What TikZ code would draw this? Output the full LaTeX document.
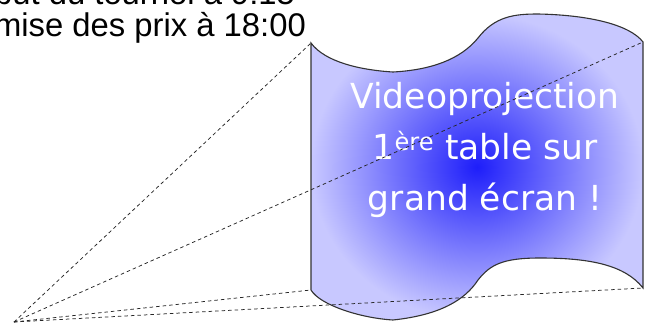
\documentclass[tikz,border=0pt]{standalone}
\usepackage{fontspec}
\setmainfont{Liberation Sans}
\newfontfamily\screenfont{DejaVu Sans}
\begin{document}
\begin{tikzpicture}[x=1pt,y=-1pt,
  toptext/.style={anchor=base west,inner sep=0pt,font=\fontsize{32.8}{33}\selectfont},
  screentext/.style={align=center,text=white,inner sep=0pt,font=\screenfont\fontsize{34.5}{51}\selectfont},
  beam/.style={dashed,dash pattern=on 3.5pt off 3pt,line width=0.75pt,black!85},
  screenshape/.style={draw=black!80,line width=1.1pt,inner color={rgb,255:red,30;green,30;blue,250},outer color={rgb,255:red,200;green,200;blue,255}}]
\useasboundingbox (0,0) rectangle (646,324);
\clip (0,0) rectangle (646,324);
\node[toptext] (l1) at (-48,5) {Début du tournoi à 9:15};
\node[toptext] (l2) at (-48,36) {Remise des prix à 18:00};
\coordinate (tl) at (311,43);
\coordinate (tr) at (643,42);
\coordinate (br) at (643,288);
\coordinate (bl) at (311,290);
\coordinate (apex) at (14,322);
\path[screenshape] (tl) .. controls (325,62) and (360,70) .. (393,72)
  .. controls (430,70) and (460,60) .. (478,38)
  .. controls (495,16) and (515,14) .. (538,14)
  .. controls (590,15) and (630,25) .. (tr) -- (br)
  .. controls (625,265) and (590,258) .. (540,258)
  .. controls (502,258) and (490,265) .. (478,280)
  .. controls (465,300) and (440,315) .. (393,320)
  .. controls (360,318) and (320,305) .. (bl) -- cycle;
\node[screentext] (t) at (485,150) {Videoprojection\\1\textsuperscript{ère} table sur\\grand écran !};
\draw[beam] (apex) -- (tl);
\draw[beam] (apex) -- (tr);
\draw[beam] (apex) -- (bl);
\draw[beam] (apex) -- (br);
\end{tikzpicture}
\end{document}
